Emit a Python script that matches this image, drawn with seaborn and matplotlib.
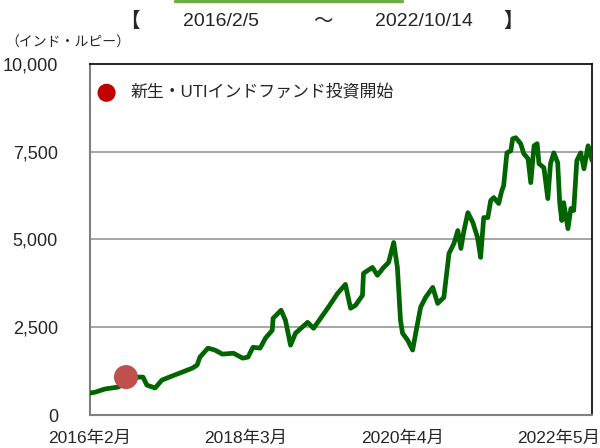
import matplotlib
matplotlib.use("Agg")
import matplotlib.pyplot as plt
import matplotlib.dates as mdates
from matplotlib.ticker import FixedLocator, FuncFormatter
from matplotlib.lines import Line2D
import pandas as pd
import seaborn as sns

# ---- data ----
dates = [
    "2016-02-05", "2016-03-01", "2016-04-17", "2016-06-20", "2016-07-28", "2016-09-26",
    "2016-10-20", "2016-11-08", "2016-12-18", "2017-01-20", "2017-03-10", "2017-04-28",
    "2017-06-17", "2017-07-10", "2017-07-24", "2017-09-01", "2017-10-05", "2017-11-10",
    "2018-01-03", "2018-02-17", "2018-03-15", "2018-04-08", "2018-05-13", "2018-06-08",
    "2018-07-11", "2018-07-15", "2018-08-23", "2018-09-13", "2018-10-08", "2018-11-01",
    "2018-12-30", "2019-01-28", "2019-03-03", "2019-04-10", "2019-05-25", "2019-07-02",
    "2019-07-27", "2019-08-20", "2019-09-23", "2019-09-28", "2019-11-10", "2019-12-05",
    "2020-01-04", "2020-01-28", "2020-02-22", "2020-03-11", "2020-03-26", "2020-04-05",
    "2020-04-30", "2020-05-24", "2020-06-08", "2020-07-02", "2020-07-26", "2020-08-30",
    "2020-09-23", "2020-10-23", "2020-11-17", "2020-12-11", "2020-12-30", "2021-01-14",
    "2021-01-29", "2021-02-17", "2021-03-13", "2021-04-05", "2021-04-20", "2021-05-05",
    "2021-05-25", "2021-06-08", "2021-06-23", "2021-07-17", "2021-08-01", "2021-08-10",
    "2021-08-26", "2021-09-14", "2021-09-23", "2021-10-08", "2021-11-01", "2021-11-16",
    "2021-12-07", "2021-12-20", "2022-01-05", "2022-01-20", "2022-01-29", "2022-02-22",
    "2022-03-13", "2022-03-26", "2022-04-11", "2022-04-30", "2022-05-10", "2022-05-20",
    "2022-05-29", "2022-06-19", "2022-07-03", "2022-07-17", "2022-08-01", "2022-08-20",
    "2022-09-05", "2022-09-25", "2022-10-14",
]
values = [
    625, 650, 740, 795, 910, 1080,
    1080, 850, 770, 995, 1110, 1220,
    1335, 1420, 1650, 1905, 1850, 1735,
    1760, 1620, 1650, 1930, 1905, 2190,
    2415, 2755, 2985, 2700, 1990, 2330,
    2640, 2470, 2755, 3070, 3465, 3720,
    3040, 3125, 3410, 4035, 4205, 3980,
    4205, 4345, 4915, 4200, 2700, 2330,
    2130, 1850, 2330, 3070, 3350, 3635,
    3180, 3350, 4600, 4885, 5255, 4745,
    5255, 5765, 5485, 5055, 4490, 5625,
    5625, 6110, 6195, 6025, 6390, 6535,
    7470, 7530, 7870, 7900, 7730, 7445,
    7300, 6620, 7670, 7730, 7160, 7045,
    6165, 7160, 7470, 7190, 6025, 5540,
    6050, 5310, 5880, 5825, 7245, 7470,
    7015, 7670, 7250,
]
start_date = ["2016-07-29"]
start_value = [1080]

y_ticks = [0, 2500, 5000, 7500, 10000]
x_tick_dates = ["2016-02-05", "2018-03-05", "2020-04-05", "2022-05-05"]
x_tick_labels = ["2016年2月", "2018年3月", "2020年4月", "2022年5月"]
period_start = "2016/2/5"
period_end = "2022/10/14"
unit_label = "（インド・ルピー）"
legend_label = "新生・UTIインドファンド投資開始"

df = pd.DataFrame({"date": pd.to_datetime(dates), "value": values})
df_start = pd.DataFrame({"date": pd.to_datetime(start_date), "value": start_value})

sns.set_style("white")
FONTS = ["Liberation Sans", "Noto Sans CJK JP", "DejaVu Sans"]
plt.rcParams["font.family"] = FONTS

fig = plt.figure(figsize=(6.0, 4.48), dpi=100)
ax = fig.add_axes([90 / 600, 1 - 415 / 448, 502 / 600, 351 / 448])

for v in y_ticks[1:-1]:
    ax.axhline(v, color="#a6a6a6", lw=1.4, zorder=1)

sns.lineplot(data=df, x="date", y="value", ax=ax, color="#006400", lw=3.4,
             zorder=3, legend=False, solid_capstyle="round", solid_joinstyle="round")
sns.scatterplot(data=df_start, x="date", y="value", ax=ax, color="#c0504d",
                s=300, edgecolor="none", zorder=4, legend=False)

ax.set_xlim(pd.Timestamp("2016-02-05"), pd.Timestamp("2022-10-14"))
ax.set_ylim(0, 10000)
ax.set_xlabel("")
ax.set_ylabel("")

ax.yaxis.set_major_locator(FixedLocator(y_ticks))
ax.yaxis.set_major_formatter(FuncFormatter(lambda v, p: f"{int(v):,}"))
ax.tick_params(axis="y", length=0, pad=23, labelsize=13)

xt = [mdates.date2num(pd.Timestamp(d)) for d in x_tick_dates]
ax.set_xticks(xt)
ax.set_xticklabels(x_tick_labels)
ax.tick_params(axis="x", direction="in", length=4, width=1, color="#808080",
               pad=11, labelsize=12.5)

for s in ["left", "bottom"]:
    ax.spines[s].set_color("#808080")
    ax.spines[s].set_linewidth(1.5)
for s in ["top", "right"]:
    ax.spines[s].set_color("#000000")
    ax.spines[s].set_linewidth(1.2)

# legend-like annotation
ax.scatter([0.033], [0.918], transform=ax.transAxes, s=170, color="#c00000",
           edgecolor="none", zorder=5, clip_on=False)
ax.text(0.08, 0.918, legend_label, transform=ax.transAxes, fontsize=12.2,
        va="center", ha="left", family=FONTS)

# header
fig.text(5 / 600, 1 - 43 / 448, unit_label, fontsize=10, va="center", ha="left",
         family=["Noto Sans CJK JP", "DejaVu Sans"])
ty = 1 - 21 / 448
fig.text(130 / 600, ty, "【", fontsize=14, va="center", ha="center",
         family=["Noto Sans CJK JP", "DejaVu Sans"], weight="bold")
fig.text(221 / 600, ty, period_start, fontsize=14, va="center", ha="center")
fig.text(323 / 600, ty, "～", fontsize=14, va="center", ha="center",
         family=["Noto Sans CJK JP", "DejaVu Sans"])
fig.text(424 / 600, ty, period_end, fontsize=14, va="center", ha="center")
fig.text(513 / 600, ty, "】", fontsize=14, va="center", ha="center",
         family=["Noto Sans CJK JP", "DejaVu Sans"], weight="bold")

fig.add_artist(Line2D([175 / 600, 402 / 600], [1 - 1 / 448, 1 - 1 / 448],
                      transform=fig.transFigure, color="#70ad47", lw=2.5))

fig.savefig("out.png", dpi=100)
